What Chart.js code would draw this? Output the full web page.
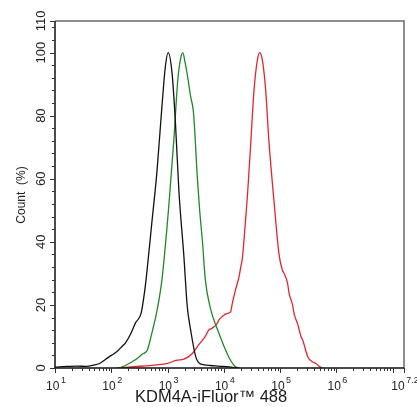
<!DOCTYPE html>
<html><head><meta charset="utf-8">
<script src="https://cdn.jsdelivr.net/npm/chart.js@4"></script>
<style>html,body{margin:0;padding:0;background:#fff}#w{width:417px;height:407px;position:relative}</style>
</head><body><div id="w"><canvas id="c"></canvas></div>
<script>
// x values are log10 of fluorescence intensity
const blackX = [1.0,1.2,1.4,1.55,1.7,1.8,1.9,2.0,2.1,2.2,2.25,2.35,2.43,2.53,2.59,2.63,2.72,2.81,2.90,2.96,3.01,3.08,3.14,3.20,3.29,3.35,3.41,3.50,3.59,3.76,3.9,4.12,4.25];
const blackY = [0.3,0.5,0.6,0.5,1.0,1.5,2.8,4.0,5.2,7.0,7.9,11,14.3,17.4,24,30,46,62,83,95.5,100,93.4,77.6,56.4,35.3,19.4,12,3.6,1.2,0.8,0.6,0.3,0];
const greenX = [2.15,2.25,2.37,2.46,2.55,2.64,2.72,2.81,2.90,3.02,3.11,3.18,3.23,3.27,3.31,3.35,3.41,3.46,3.53,3.57,3.62,3.67,3.76,3.88,4.00,4.10,4.20,4.28];
const greenY = [0,0.8,2,3,4.4,5.7,11,18,28,51,72,91,98,100,97,93,86,81,60,50,40,28,19,12.5,7,3,0.5,0];
const redX = [2.10,2.40,2.81,3.00,3.17,3.29,3.44,3.55,3.67,3.73,3.79,3.88,3.91,3.97,4.06,4.12,4.15,4.21,4.27,4.30,4.33,4.39,4.42,4.48,4.535,4.595,4.636,4.684,4.743,4.80,4.89,4.98,5.04,5.07,5.13,5.16,5.22,5.25,5.31,5.37,5.40,5.49,5.57,5.63,5.70,5.75];
const redY = [0,0.4,1,1.5,2.5,2.8,4.6,7.3,10,12,12.6,14.1,15.2,16.3,17.3,17.8,20.5,25,29,32,35,48,55,72,88,97.6,100,97.6,88,72,53,36,31,30,27,23.6,20,17,14,10,8.9,3.6,2,1.5,0.5,0];
const xTickVals = [1,2,3,4,5,6,7.2];
const xTickExp = ['1','2','3','4','5','6','7.2'];
const yTickVals = [0,20,40,60,80,100,110];
const xTitle = 'KDM4A-iFluor\u2122 488';
const yTitle = 'Count  (%)';

function pts(xs, ys){ return xs.map((x,i)=>({x:x, y:ys[i]})); }

const axisPlugin = {
  id:'axisPlugin',
  afterDraw(chart){
    const ctx = chart.ctx, a = chart.chartArea;
    const xs = chart.scales.x, ys = chart.scales.y;
    ctx.save();
    ctx.strokeStyle = '#6a6a6a'; ctx.lineWidth = 1.5;
    ctx.beginPath(); ctx.moveTo(a.left, a.top); ctx.lineTo(a.right, a.top); ctx.lineTo(a.right, a.bottom); ctx.stroke();
    ctx.strokeStyle = '#111'; ctx.lineWidth = 1.5;
    ctx.beginPath(); ctx.moveTo(a.left, a.top); ctx.lineTo(a.left, a.bottom); ctx.lineTo(a.right, a.bottom); ctx.stroke();
    ctx.lineWidth = 1; ctx.strokeStyle = '#333';
    ctx.beginPath();
    for (let n=1;n<=7;n++){
      for (let k=1;k<=9;k++){
        const v = n + Math.log10(k);
        if (v>7.2+1e-9) break;
        const px = Math.round(xs.getPixelForValue(v))+0.5;
        const len = k===1 ? 5 : 3;
        ctx.moveTo(px, a.bottom); ctx.lineTo(px, a.bottom+len);
      }
    }
    const pxm = Math.round(xs.getPixelForValue(7.2))+0.5;
    ctx.moveTo(pxm, a.bottom); ctx.lineTo(pxm, a.bottom+5);
    for (let v=0; v<=110; v+=4){
      const py = Math.round(ys.getPixelForValue(v))+0.5;
      const len = (v%20===0) ? 5 : 3;
      ctx.moveTo(a.left, py); ctx.lineTo(a.left-len, py);
    }
    const py110 = Math.round(ys.getPixelForValue(110))+0.5;
    ctx.moveTo(a.left, py110); ctx.lineTo(a.left-5, py110);
    ctx.stroke();
    ctx.fillStyle = '#222';
    ctx.textBaseline = 'alphabetic';
    xTickVals.forEach((v,i)=>{
      const px = xs.getPixelForValue(v);
      ctx.font = '12px "Liberation Sans", Arial, sans-serif';
      const wb = ctx.measureText('10').width;
      ctx.font = '9px "Liberation Sans", Arial, sans-serif';
      const we = ctx.measureText(xTickExp[i]).width;
      const total = wb + 1.5 + we;
      const x0 = px - total/2 + 1;
      ctx.font = '12px "Liberation Sans", Arial, sans-serif';
      ctx.textAlign = 'left';
      ctx.fillText('10', x0, 390);
      ctx.font = '9px "Liberation Sans", Arial, sans-serif';
      ctx.fillText(xTickExp[i], x0 + wb + 1.5, 383);
    });
    ctx.font = '13px "Liberation Sans", Arial, sans-serif';
    ctx.textAlign = 'center'; ctx.textBaseline = 'alphabetic';
    yTickVals.forEach(v=>{
      const py = ys.getPixelForValue(v);
      ctx.save(); ctx.translate(45, py); ctx.rotate(-Math.PI/2);
      ctx.fillText(String(v), 0, 0); ctx.restore();
    });
    ctx.save(); ctx.translate(25, 195); ctx.rotate(-Math.PI/2);
    ctx.font = '12px "Liberation Sans", Arial, sans-serif';
    ctx.fillText(yTitle, 0, 0); ctx.restore();
    ctx.font = '16.5px "Liberation Sans", Arial, sans-serif';
    ctx.textAlign = 'left'; ctx.fillStyle = '#1a1a1a';
    ctx.fillText(xTitle, 135, 402);
    ctx.restore();
  }
};

const ds = (label, xs, ys, color)=>({
  label, data: pts(xs, ys), borderColor: color, borderWidth: 1.3,
  pointRadius: 0, fill: false, cubicInterpolationMode: 'monotone', tension: 0.4
});

new Chart(document.getElementById('c'), {
  type: 'line',
  data: { datasets: [
    ds('Control', blackX, blackY, '#111111'),
    ds('Isotype', greenX, greenY, '#1f8a25'),
    ds('KDM4A', redX, redY, '#e8242c')
  ]},
  options: {
    responsive: true, maintainAspectRatio: false, animation: false,
    layout: { padding: { left: 55, top: 21, right: 13, bottom: 39 } },
    plugins: { legend: { display: false }, tooltip: { enabled: false } },
    scales: {
      x: { type: 'linear', min: 1, max: 7.2, display: false },
      y: { type: 'linear', min: 0, max: 110, display: false }
    }
  },
  plugins: [axisPlugin]
});
</script></body></html>
